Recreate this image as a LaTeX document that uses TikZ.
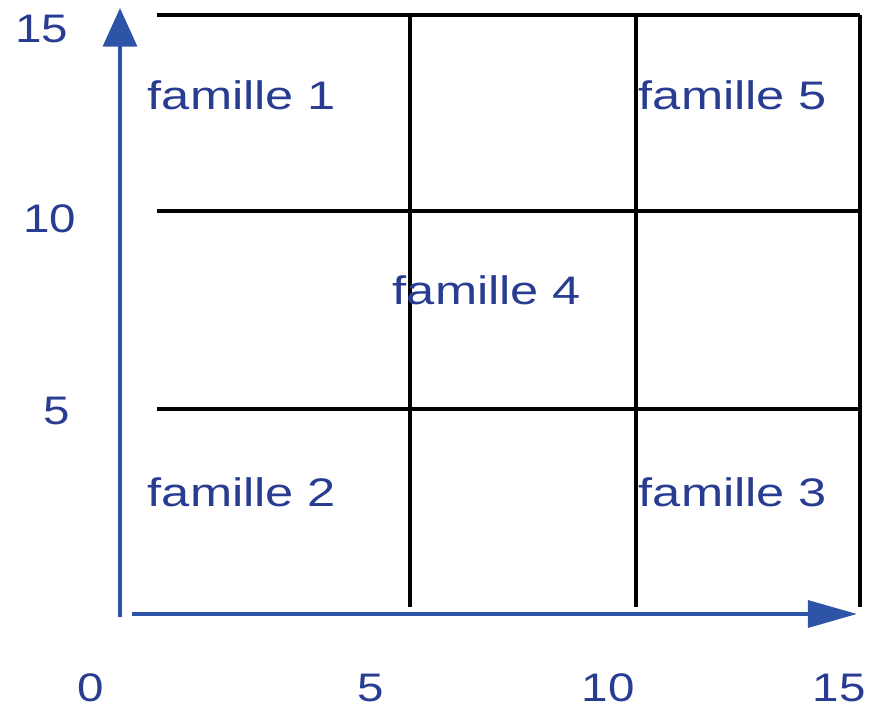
\documentclass[tikz,border=0pt]{standalone}
\usepackage{fontspec}
\setmainfont{Liberation Sans}
\usetikzlibrary{arrows.meta}
\definecolor{axisblue}{RGB}{46,84,168}
\definecolor{textblue}{RGB}{40,60,146}
\tikzset{
  famlabel/.style={text=textblue, anchor=base, inner sep=0pt, xscale=1.27,
    font=\fontsize{34}{40}\selectfont},
  ticklabel/.style={famlabel, xscale=0.94},
  gridline/.style={line width=3pt, black},
  axisline/.style={line width=3.2pt, axisblue}
}
\begin{document}
\begin{tikzpicture}[x=0.03cm, y=0.03cm]
  \useasboundingbox (0,0) rectangle (870,710);
  % grid
  \draw[gridline] (157,695) -- (860,695);
  \draw[gridline] (157,499) -- (860,499);
  \draw[gridline] (157,301) -- (860,301);
  \draw[gridline] (410,695) -- (410,103);
  \draw[gridline] (636,695) -- (636,103);
  \draw[gridline] (860,695) -- (860,103);
  % axes
  \draw[axisline, -{Triangle[length=33pt, width=29pt]}] (120,93) -- (120,702);
  \draw[axisline, -{Triangle[length=42pt, width=23pt]}] (132,96) -- (857,96);
  % tick values
  \node[ticklabel] (y15) at (42,667) {15};
  \node[ticklabel] (y10) at (50,477) {10};
  \node[ticklabel] (y5) at (57,285) {5};
  \node[ticklabel] (x0) at (91,8) {0};
  \node[ticklabel] (x5) at (371,8) {5};
  \node[ticklabel] (x10) at (608,8) {10};
  \node[ticklabel] (x15) at (839,8) {15};
  % families
  \node[famlabel] (fam1) at (242,600) {famille 1};
  \node[famlabel] (fam5) at (733,600) {famille 5};
  \node[famlabel] (fam4) at (487,405) {famille 4};
  \node[famlabel] (fam2) at (242,203) {famille 2};
  \node[famlabel] (fam3) at (733,203) {famille 3};
\end{tikzpicture}
\end{document}
